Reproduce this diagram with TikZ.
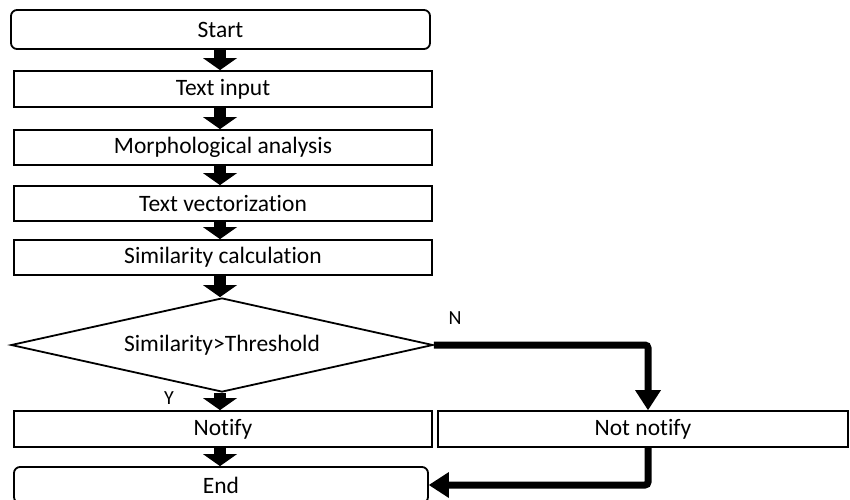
\documentclass[tikz,border=0pt]{standalone}
\usepackage{fontspec}
\setmainfont[Ligatures=NoCommon]{Carlito}
\usetikzlibrary{arrows.meta,shapes.geometric,calc}
\begin{document}
\begin{tikzpicture}[x=1pt,y=-1pt,
  txt/.style={font=\fontsize{23.5}{28}\selectfont},
  stepbox/.style={draw, line width=1.8pt, rectangle, inner sep=0pt, txt},
  termbox/.style={stepbox, rounded corners=6pt},
  decbox/.style={draw, line width=1.8pt, diamond, aspect=4.49, inner sep=0pt, txt},
  flowarrow/.style={line width=12pt, -{Triangle[width=34pt,length=12pt,line width=0pt]}},
  branch/.style={line width=7pt, rounded corners=3pt, -{Triangle[width=26pt,length=20pt,line width=0pt]}},
  lbl/.style={font=\fontsize{20}{24}\selectfont}
]
% page area
\clip (0,0) rectangle (850,499);
\fill[white] (0,0) rectangle (850,499);

% columns for the connectors
\coordinate (col) at (220,0);
\coordinate (ncol) at (648,0);

% process steps
\node[termbox, minimum width=419pt, minimum height=39pt] (start) at (220.5,29.5) {Start};
\node[stepbox, minimum width=418pt, minimum height=36pt] (input) at (223,89) {Text input};
\node[stepbox, minimum width=418pt, minimum height=35pt] (morph) at (223,147.5) {Morphological analysis};
\node[stepbox, minimum width=418pt, minimum height=35pt] (vect) at (223,203.5) {Text vectorization};
\node[stepbox, minimum width=418pt, minimum height=35pt] (simcalc) at (223,257.5) {Similarity calculation};
\node[decbox, minimum width=422pt, minimum height=94pt] (dec) at (222,345) {Similarity>Threshold};
\node[stepbox, minimum width=418pt, minimum height=36pt] (notify) at (223,429) {Notify};
\node[stepbox, minimum width=410pt, minimum height=36pt] (notnot) at (643,429) {Not notify};
\node[termbox, minimum width=414pt, minimum height=36pt] (endbox) at (221,485) {End};

% branch labels
\node[lbl] (ylbl) at (169,398) {Y};
\node[lbl] (nlbl) at (455,318) {N};

% main flow
\draw[flowarrow] (start.south -| col) -- (input.north -| col);
\draw[flowarrow] (input.south -| col) -- (morph.north -| col);
\draw[flowarrow] (morph.south -| col) -- (vect.north -| col);
\draw[flowarrow] (vect.south -| col) -- (simcalc.north -| col);
\draw[flowarrow] (simcalc.south -| col) -- (dec.north -| col);
\draw[flowarrow] (dec.south -| col) -- (notify.north -| col);
\draw[flowarrow] (notify.south -| col) -- (endbox.north -| col);

% "no" branch and its return
\draw[branch] (dec.east) -| (notnot.north -| ncol);
\draw[branch] (notnot.south -| ncol) |- (endbox.east);
\end{tikzpicture}
\end{document}
